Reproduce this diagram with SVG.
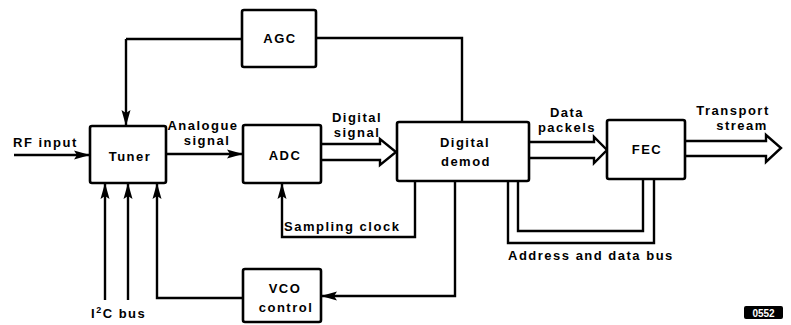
<svg xmlns="http://www.w3.org/2000/svg" width="791" height="325" viewBox="0 0 791 325">
<defs>
<marker id="ah" viewBox="0 0 16 10" refX="16" refY="5" markerWidth="16" markerHeight="10" markerUnits="userSpaceOnUse" orient="auto">
<path d="M0,0.5 L16,5 L0,9.5 L3,5 Z" fill="#000"/>
</marker>
<style>
.box{fill:#fff;stroke:#000;stroke-width:2.6;stroke-linejoin:round}
.ln{fill:none;stroke:#000;stroke-width:2.4;stroke-linejoin:miter}
.ar{fill:none;stroke:#000;stroke-width:2.4;marker-end:url(#ah)}
.hol{fill:#fff;stroke:#000;stroke-width:2.4;stroke-linejoin:miter}
text{font-family:"Liberation Sans","DejaVu Sans",sans-serif;font-weight:bold;font-size:13px;fill:#000;letter-spacing:1.5px}
.c{text-anchor:middle}
</style>
</defs>
<rect width="791" height="325" fill="#fff"/>
<g id="connectors">
<path class="ar" d="M126,39 V126"/>
<path class="ln" d="M242,39 H126"/>
<path class="ln" d="M316,38 H462 V122"/>
<path class="ar" d="M14,155 H90"/>
<path class="ar" d="M166,154 H243"/>
<path class="ar" d="M105,300 V183"/>
<path class="ar" d="M128,300 V183"/>
<path class="ar" d="M243,298 H157 V183"/>
<path class="ar" d="M415,181 V237 H282 V183"/>
<path class="ar" d="M455,181 V296 H321"/>
<path class="ln" d="M508,181 V243 H654 V179"/>
<path class="ln" d="M518,181 V231 H643 V179"/>
<path class="hol" d="M321,144 H380 V139 L396,152 L380,165 V160 H321"/>
<path class="hol" d="M529,142 H594 V137 L607,150 L594,163 V158 H529"/>
<path class="hol" d="M685,141 H766 V135 L781,148 L766,162 V156 H685"/>
</g>
<g id="agc"><rect class="box" x="242" y="10" width="74" height="57" rx="2"/><text class="c" x="280" y="43">AGC</text></g>
<g id="tuner"><rect class="box" x="90" y="126" width="76" height="57" rx="2"/><text class="c" x="130" y="161">Tuner</text></g>
<g id="adc"><rect class="box" x="243" y="125" width="78" height="58" rx="2"/><text class="c" x="285" y="160">ADC</text></g>
<g id="demod"><rect class="box" x="397" y="122" width="132" height="59" rx="2"/><text class="c" x="465" y="147">Digital</text><text class="c" x="466" y="166">demod</text></g>
<g id="fec"><rect class="box" x="607" y="120" width="78" height="59" rx="2"/><text class="c" x="647" y="154">FEC</text></g>
<g id="vco"><rect class="box" x="243" y="269" width="78" height="53" rx="2"/><text class="c" x="285" y="293">VCO</text><text class="c" x="286" y="312">control</text></g>
<g id="labels">
<text x="13" y="147">RF input</text>
<text class="c" x="203" y="130">Analogue</text>
<text class="c" x="207" y="145">signal</text>
<text class="c" x="357" y="122">Digital</text>
<text class="c" x="357" y="137">signal</text>
<text class="c" x="567" y="117">Data</text>
<text class="c" x="567" y="132">packels</text>
<text class="c" x="733" y="115">Transport</text>
<text class="c" x="742" y="130">stream</text>
<text x="284" y="231">Sampling clock</text>
<text x="508" y="260">Address and data bus</text>
<text x="91" y="318">I<tspan font-size="9" dy="-5">2</tspan><tspan dy="5">C bus</tspan></text>
</g>
<g id="tag"><rect x="744" y="306" width="39" height="13" rx="2" fill="#000"/><text x="763.5" y="316.5" class="c" style="font-size:10px;fill:#fff;letter-spacing:0">0552</text></g>
</svg>
